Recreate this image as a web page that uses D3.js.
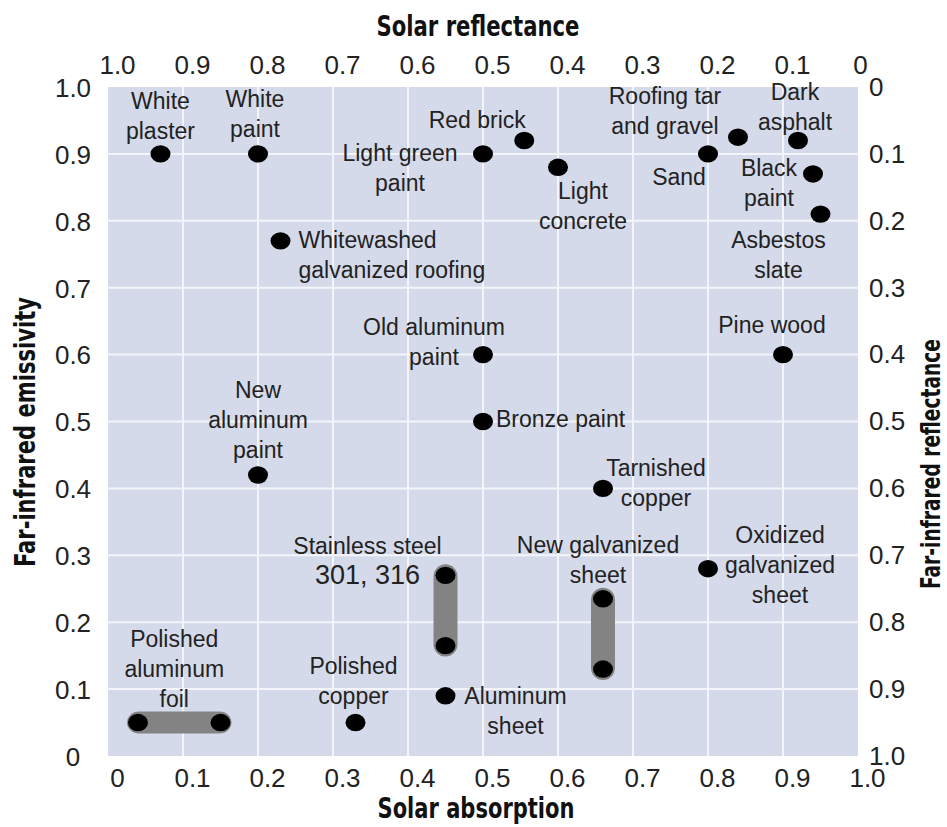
<!DOCTYPE html>
<html>
<head>
<meta charset="utf-8">
<script src="https://cdn.jsdelivr.net/npm/d3@7"></script>
<style>
  html, body { margin: 0; padding: 0; background: #ffffff; }
  svg { display: block; }
</style>
</head>
<body>
<script>
// ---------- Data ----------
const materials = [
  "White plaster", "White paint", "Red brick", "Light green paint", "Light concrete",
  "Roofing tar and gravel", "Sand", "Dark asphalt", "Black paint", "Asbestos slate",
  "Whitewashed galvanized roofing", "Old aluminum paint", "Pine wood", "Bronze paint",
  "New aluminum paint", "Tarnished copper", "Oxidized galvanized sheet",
  "Polished copper", "Aluminum sheet"
];
const absorption = [0.07, 0.20, 0.555, 0.50, 0.60, 0.84, 0.80, 0.92, 0.94, 0.95,
                    0.23, 0.50, 0.90, 0.50, 0.20, 0.66, 0.80, 0.33, 0.45];
const emissivity = [0.90, 0.90, 0.92, 0.90, 0.88, 0.925, 0.90, 0.92, 0.87, 0.81,
                    0.77, 0.60, 0.60, 0.50, 0.42, 0.40, 0.28, 0.05, 0.09];

// materials given as ranges
const rangeMaterials = ["Stainless steel 301, 316", "New galvanized sheet", "Polished aluminum foil"];
const rangeAbsMin = [0.45, 0.66, 0.04];
const rangeAbsMax = [0.45, 0.66, 0.15];
const rangeEmiMin = [0.165, 0.13, 0.05];
const rangeEmiMax = [0.27, 0.235, 0.05];

// ticks
const tickValues = [0, 0.1, 0.2, 0.3, 0.4, 0.5, 0.6, 0.7, 0.8, 0.9, 1.0];
const bottomTickLabels = ["0", "0.1", "0.2", "0.3", "0.4", "0.5", "0.6", "0.7", "0.8", "0.9", "1.0"];
const topTickLabels = ["1.0", "0.9", "0.8", "0.7", "0.6", "0.5", "0.4", "0.3", "0.2", "0.1", "0"];
const leftTickLabels = ["0", "0.1", "0.2", "0.3", "0.4", "0.5", "0.6", "0.7", "0.8", "0.9", "1.0"];
const rightTickLabels = ["1.0", "0.9", "0.8", "0.7", "0.6", "0.5", "0.4", "0.3", "0.2", "0.1", "0"];

// axis titles
const titleBottom = "Solar absorption";
const titleTop = "Solar reflectance";
const titleLeft = "Far-infrared emissivity";
const titleRight = "Far-infrared reflectance";

// ---------- Label layout (text lines, offsets from the marker in px) ----------
const labelLayout = {
  "White plaster": { lines: ["White", "plaster"], dx: 0, dy: -45, anchor: "middle" },
  "White paint": { lines: ["White", "paint"], dx: -3, dy: -47, anchor: "middle" },
  "Red brick": { lines: ["Red brick"], dx: -47, dy: -13, anchor: "middle" },
  "Light green paint": { lines: ["Light green", "paint"], dx: -83, dy: 7, anchor: "middle" },
  "Light concrete": { lines: ["Light", "concrete"], dx: 25, dy: 32, anchor: "middle" },
  "Roofing tar and gravel": { lines: ["Roofing tar", "and gravel"], dx: -73, dy: -33, anchor: "middle" },
  "Sand": { lines: ["Sand"], dx: -29, dy: 31, anchor: "middle" },
  "Dark asphalt": { lines: ["Dark", "asphalt"], dx: -3, dy: -41, anchor: "middle" },
  "Black paint": { lines: ["Black", "paint"], dx: -44, dy: 2, anchor: "middle" },
  "Asbestos slate": { lines: ["Asbestos", "slate"], dx: -42, dy: 34, anchor: "middle" },
  "Whitewashed galvanized roofing": { lines: ["Whitewashed", "galvanized roofing"], dx: 18, dy: 7, anchor: "start" },
  "Old aluminum paint": { lines: ["Old aluminum", "paint"], dx: -49, dy: -20, anchor: "middle" },
  "Pine wood": { lines: ["Pine wood"], dx: -11, dy: -22, anchor: "middle" },
  "Bronze paint": { lines: ["Bronze paint"], dx: 13, dy: 5, anchor: "start" },
  "New aluminum paint": { lines: ["New", "aluminum", "paint"], dx: 0, dy: -77, anchor: "middle" },
  "Tarnished copper": { lines: ["Tarnished", "copper"], dx: 53, dy: -12, anchor: "middle" },
  "Oxidized galvanized sheet": { lines: ["Oxidized", "galvanized", "sheet"], dx: 72, dy: -26, anchor: "middle" },
  "Polished copper": { lines: ["Polished", "copper"], dx: -2, dy: -49, anchor: "middle" },
  "Aluminum sheet": { lines: ["Aluminum", "sheet"], dx: 70, dy: 8, anchor: "middle" },
  // ranges: offsets from the upper / midpoint end
  "Stainless steel 301, 316": { lines: ["Stainless steel", "301, 316"], dx: -78, dy: -21, anchor: "middle", big: [1] },
  "New galvanized sheet": { lines: ["New galvanized", "sheet"], dx: -5, dy: -46, anchor: "middle" },
  "Polished aluminum foil": { lines: ["Polished", "aluminum", "foil"], dx: -5, dy: -76, anchor: "middle" }
};

// ---------- Drawing ----------
const W = 947, H = 827;
const svg = d3.select("body").append("svg").attr("width", W).attr("height", H);

const plotLeft = 108, plotRight = 858, plotTop = 87, plotBottom = 756;
const x = d3.scaleLinear().domain([0, 1]).range([plotLeft, plotRight]);
const y = d3.scaleLinear().domain([0, 1]).range([plotBottom, plotTop]);

const BG = "#d5daea";
const tickFont = "'Liberation Sans', Arial, sans-serif";
const labelFont = "'Liberation Sans', Arial, sans-serif";
const titleFont = "'Liberation Sans Narrow', 'Arial Narrow', 'DejaVu Sans Condensed', sans-serif";
const textColor = "#222222";

// plot background
svg.append("rect")
  .attr("x", x(0)).attr("y", y(1))
  .attr("width", x(1) - x(0)).attr("height", y(0) - y(1))
  .attr("fill", BG);

// gridlines
const grid = svg.append("g").attr("stroke", "#f4f5fa").attr("stroke-width", 2);
grid.selectAll("line.v").data(tickValues.slice(1, -1)).join("line")
  .attr("class", "v")
  .attr("x1", d => x(d)).attr("x2", d => x(d))
  .attr("y1", y(1)).attr("y2", y(0));
grid.selectAll("line.h").data(tickValues.slice(1, -1)).join("line")
  .attr("class", "h")
  .attr("y1", d => y(d)).attr("y2", d => y(d))
  .attr("x1", x(0)).attr("x2", x(1));

// axes (via d3 axis generators, domain lines/ticks hidden)
function styleAxis(g) {
  g.select(".domain").remove();
  g.selectAll(".tick line").remove();
  g.selectAll(".tick text")
    .attr("font-family", tickFont)
    .attr("font-size", 26)
    .attr("fill", textColor);
}

svg.append("g")
  .attr("transform", `translate(9,${plotBottom + 31})`)
  .call(d3.axisBottom(x).tickValues(tickValues).tickSize(0).tickPadding(0)
        .tickFormat((d, i) => bottomTickLabels[i]))
  .call(styleAxis)
  .selectAll(".tick text").attr("dy", 0).attr("y", 0);

svg.append("g")
  .attr("transform", `translate(9,${plotTop - 13})`)
  .call(d3.axisTop(x).tickValues(tickValues).tickSize(0).tickPadding(0)
        .tickFormat((d, i) => topTickLabels[i]))
  .call(styleAxis)
  .selectAll(".tick text").attr("dy", 0).attr("y", 0)
  .attr("x", (d, i) => i === tickValues.length - 1 ? -7 : 0);

svg.append("g")
  .attr("transform", `translate(73,0)`)
  .call(d3.axisLeft(y).tickValues(tickValues).tickSize(0).tickPadding(0)
        .tickFormat((d, i) => leftTickLabels[i]))
  .call(styleAxis)
  .selectAll(".tick text").attr("text-anchor", "middle").attr("x", 0).attr("dy", "0.36em");

svg.append("g")
  .attr("transform", `translate(869,-1)`)
  .call(d3.axisRight(y).tickValues(tickValues).tickSize(0).tickPadding(0)
        .tickFormat((d, i) => rightTickLabels[i]))
  .call(styleAxis)
  .selectAll(".tick text").attr("text-anchor", "start").attr("x", 0).attr("dy", "0.36em");

// axis titles
function title(txt, tx, ty, rot, len, size) {
  svg.append("text")
    .attr("transform", `translate(${tx},${ty}) rotate(${rot})`)
    .attr("text-anchor", "middle")
    .attr("font-family", titleFont)
    .attr("font-weight", "bold")
    .attr("font-size", size)
    .attr("textLength", len)
    .attr("lengthAdjust", "spacingAndGlyphs")
    .attr("fill", "#111111")
    .text(txt);
}
title(titleTop, 478, 36, 0, 203, 29);
title(titleBottom, 476, 818, 0, 197, 29);
title(titleLeft, 35, 432, -90, 270, 29);
title(titleRight, 940, 464, -90, 250, 27);

// range bars
const ranges = rangeMaterials.map((m, i) => ({
  name: m, a0: rangeAbsMin[i], a1: rangeAbsMax[i], e0: rangeEmiMin[i], e1: rangeEmiMax[i]
}));
const barHalf = 12, barExt = 11;
svg.append("g").selectAll("rect").data(ranges).join("rect")
  .attr("x", d => x(d.a0) - barExt - (d.a0 === d.a1 ? 1 : 0))
  .attr("y", d => y(d.e1) - barExt)
  .attr("width", d => x(d.a1) - x(d.a0) + 2 * barExt + (d.a0 === d.a1 ? 2 : 0))
  .attr("height", d => y(d.e0) - y(d.e1) + 2 * barExt)
  .attr("rx", barHalf).attr("ry", barHalf)
  .attr("fill", "#838383");

// dots
const pts = materials.map((m, i) => ({ name: m, a: absorption[i], e: emissivity[i] }));
const rangeEnds = [];
ranges.forEach(r => { rangeEnds.push({ a: r.a0, e: r.e0 }); rangeEnds.push({ a: r.a1, e: r.e1 }); });
svg.append("g").selectAll("ellipse").data(pts.concat(rangeEnds)).join("ellipse")
  .attr("cx", d => x(d.a)).attr("cy", d => y(d.e))
  .attr("rx", 10).attr("ry", 8.7)
  .attr("fill", "#000000");

// labels
const labelData = pts.map(p => ({ name: p.name, px: x(p.a), py: y(p.e) }))
  .concat(ranges.map(r => ({
    name: r.name,
    px: (x(r.a0) + x(r.a1)) / 2,
    py: Math.min(y(r.e0), y(r.e1))
  })));

const lg = svg.append("g")
  .attr("font-family", labelFont)
  .attr("font-size", 23)
  .attr("fill", textColor);
labelData.forEach(d => {
  const L = labelLayout[d.name];
  const t = lg.append("text")
    .attr("text-anchor", L.anchor)
    .attr("x", d.px + L.dx)
    .attr("y", d.py + L.dy);
  L.lines.forEach((line, i) => {
    t.append("tspan")
      .attr("x", d.px + L.dx)
      .attr("dy", i === 0 ? 0 : 30)
      .attr("font-size", L.big && L.big.includes(i) ? 27 : null)
      .text(line);
  });
});
</script>
</body>
</html>
